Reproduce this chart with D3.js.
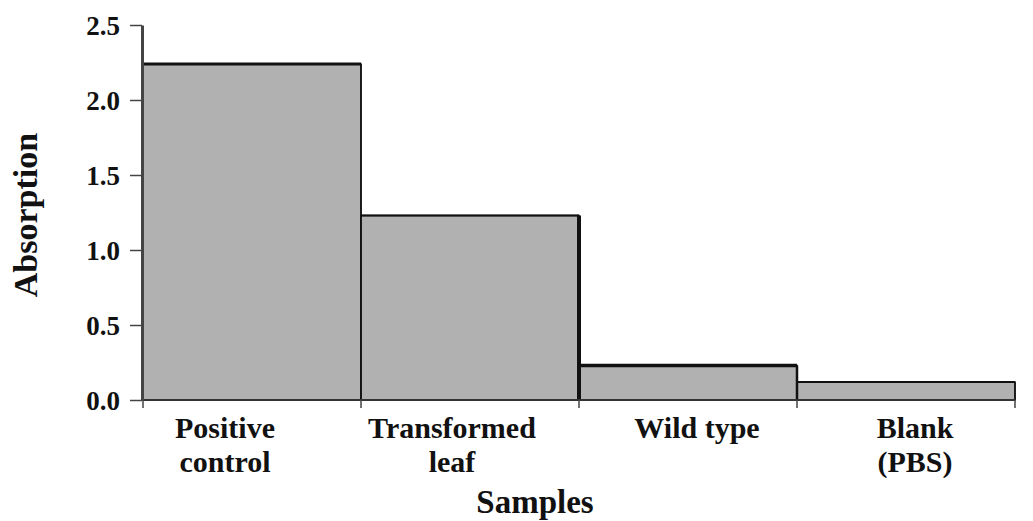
<!DOCTYPE html>
<html>
<head>
<meta charset="utf-8">
<script src="https://cdn.jsdelivr.net/npm/d3@7"></script>
<style>
  body { margin: 0; background: #fff; }
  svg, svg text { font-family: "Liberation Serif", "Times New Roman", Tinos, "Noto Serif", "DejaVu Serif", FreeSerif, serif !important; font-weight: bold; }
</style>
</head>
<body>
<div id="chart"></div>
<script>
const categories = ['Positive control', 'Transformed leaf', 'Wild type', 'Blank (PBS)'];
const labelLines = [['Positive', 'control'], ['Transformed', 'leaf'], ['Wild type'], ['Blank', '(PBS)']];
const absorption = [2.24, 1.23, 0.23, 0.12];
const yTicks = [0, 0.5, 1.0, 1.5, 2.0, 2.5];

const width = 1033, height = 521;
const margin = { left: 143, right: 18, top: 25, bottom: 121 };
// labels in the original sit a little off the band centres
const labelNudge = [-27, -18, 9, 9];
// edge weights: top line of each bar, right side of each bar
const topWeight = [3, 2, 3.5, 2];
const rightWeight = [1.5, 4, 2.5, 1.5];

const svg = d3.select('#chart').append('svg')
  .attr('width', width)
  .attr('height', height);

const x = d3.scaleBand()
  .domain(categories)
  .range([margin.left, width - margin.right])
  .padding(0);

const y = d3.scaleLinear()
  .domain([0, 2.5])
  .range([height - margin.bottom, margin.top]);

// bars
svg.selectAll('.bar')
  .data(absorption)
  .join('rect')
  .attr('class', 'bar')
  .attr('x', (d, i) => x(categories[i]))
  .attr('y', d => y(d))
  .attr('width', x.bandwidth())
  .attr('height', d => y(0) - y(d))
  .attr('fill', '#b1b1b1')
  .attr('stroke', '#111')
  .attr('stroke-width', 1.5);

// heavier top and right edges
svg.selectAll('.top')
  .data(absorption)
  .join('line')
  .attr('class', 'top')
  .attr('x1', (d, i) => x(categories[i]))
  .attr('x2', (d, i) => x(categories[i]) + x.bandwidth())
  .attr('y1', d => y(d))
  .attr('y2', d => y(d))
  .attr('stroke', '#111')
  .attr('stroke-width', (d, i) => topWeight[i]);

svg.selectAll('.side')
  .data(absorption)
  .join('line')
  .attr('class', 'side')
  .attr('x1', (d, i) => x(categories[i]) + x.bandwidth())
  .attr('x2', (d, i) => x(categories[i]) + x.bandwidth())
  .attr('y1', d => y(d))
  .attr('y2', y(0))
  .attr('stroke', '#111')
  .attr('stroke-width', (d, i) => rightWeight[i]);

// x axis
const xAxis = svg.append('g')
  .attr('transform', 'translate(0,' + y(0) + ')');
xAxis.append('line')
  .attr('x1', margin.left)
  .attr('x2', width - margin.right)
  .attr('stroke', '#333')
  .attr('stroke-width', 2);
const bounds = categories.map(c => x(c)).concat([x(categories[categories.length - 1]) + x.bandwidth()]);
xAxis.selectAll('.xtick')
  .data(bounds)
  .join('line')
  .attr('class', 'xtick')
  .attr('x1', d => d)
  .attr('x2', d => d)
  .attr('y1', 0)
  .attr('y2', 8)
  .attr('stroke', '#444')
  .attr('stroke-width', 1.5);

// y axis
const yAxis = svg.append('g')
  .attr('transform', 'translate(' + (margin.left - 1) + ',0)')
  .call(d3.axisLeft(y).tickValues(yTicks).tickFormat(d3.format('.1f')).tickSize(12).tickSizeOuter(0));
yAxis.attr('font-family', null);
yAxis.select('.domain').attr('stroke', '#444').attr('stroke-width', 3);
yAxis.selectAll('.tick line').attr('stroke', '#444').attr('stroke-width', 1.5);
yAxis.selectAll('.tick text')
  .attr('x', -22)
  .attr('dy', '0.36em')
  .attr('font-size', 27)
  .attr('fill', '#111');

// category labels
const labels = svg.selectAll('.cat')
  .data(categories)
  .join('text')
  .attr('class', 'cat')
  .attr('text-anchor', 'middle')
  .attr('font-size', 30)
  .attr('fill', '#111');
labels.each(function (c, i) {
  const t = d3.select(this);
  labelLines[i].forEach((line, j) => {
    t.append('tspan')
      .attr('x', x(c) + x.bandwidth() / 2 + labelNudge[i])
      .attr('y', y(0) + 38 + j * 34)
      .text(line);
  });
});

// axis titles
svg.append('text')
  .attr('x', 535)
  .attr('y', 513)
  .attr('text-anchor', 'middle')
  .attr('font-size', 33)
  .attr('fill', '#111')
  .text('Samples');

svg.append('text')
  .attr('transform', 'translate(37,215) rotate(-90)')
  .attr('text-anchor', 'middle')
  .attr('font-size', 34)
  .attr('fill', '#111')
  .text('Absorption');
</script>
</body>
</html>
